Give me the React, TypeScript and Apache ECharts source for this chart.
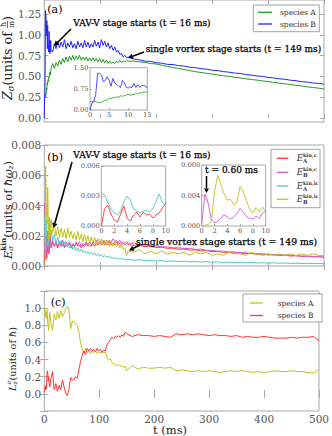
import React, { useEffect, useRef } from "react";
import * as echarts from "echarts";

// ---------------- data ----------------
// shared time grid (ms) for t >= 12
const tMain = [12,15,18,21,24,27,30,33,36,39,42,45,48,51,54,57,60,63,66,69,72,75,78,81,84,87,90,93,96,99,102,105,108,111,114,117,120,123,126,129,132,135,138,141,144,147,150,
  160,170,180,190,200,210,220,230,240,250,260,270,280,290,300,310,320,330,340,350,360,370,380,390,400,410,420,430,440,450,460,470,480,490,500];
const tEarly = [0,1,2,3,4,5,6,7,8,9,10];

// panel (a)
const aBlue = [0.82,0.80,0.90,0.84,0.93,0.85,0.92,0.86,0.95,0.84,0.91,0.86,0.93,0.85,0.90,0.84,0.93,0.86,0.91,0.85,0.94,0.86,0.92,0.85,0.90,0.86,0.94,0.87,0.92,0.85,0.95,0.88,0.93,0.86,0.91,0.84,0.88,0.82,0.86,0.80,0.82,0.77,0.78,0.74,0.76,0.73,0.74,
  0.715,0.705,0.69,0.685,0.67,0.665,0.65,0.648,0.635,0.63,0.615,0.61,0.598,0.592,0.58,0.575,0.562,0.556,0.545,0.54,0.527,0.52,0.51,0.505,0.492,0.486,0.475,0.47,0.458,0.452,0.44,0.436,0.425,0.42,0.41];
const aGreen = [0.60,0.66,0.60,0.67,0.63,0.70,0.65,0.72,0.67,0.74,0.68,0.75,0.70,0.76,0.70,0.75,0.71,0.76,0.70,0.74,0.70,0.74,0.69,0.73,0.69,0.73,0.69,0.72,0.68,0.72,0.67,0.71,0.67,0.70,0.66,0.69,0.66,0.68,0.66,0.69,0.67,0.70,0.67,0.69,0.68,0.70,0.69,
  0.69,0.68,0.675,0.66,0.655,0.64,0.625,0.612,0.60,0.588,0.575,0.562,0.552,0.542,0.532,0.522,0.512,0.505,0.494,0.486,0.476,0.466,0.46,0.45,0.442,0.432,0.423,0.414,0.406,0.397,0.388,0.378,0.371,0.362,0.352];
const insATime = [0,0.5,1,1.5,2,2.5,3,3.5,4,4.5,5,5.5,6,6.5,7,7.5,8,8.5,9,9.5,10,10.5,11,11.5,12,12.5,13,13.5,14,14.5,15];
const insABlue = [0.0,0.25,0.3,0.55,1.3,1.3,1.24,1.0,1.05,1.18,1.05,0.84,1.12,0.95,0.9,0.85,0.8,1.05,0.96,0.8,0.78,0.82,0.8,0.94,0.8,0.9,0.8,0.86,0.87,0.86,0.77];
const insAGreen = [0.3,0.3,0.3,0.3,0.27,0.25,0.28,0.3,0.36,0.34,0.42,0.4,0.44,0.43,0.47,0.45,0.5,0.49,0.51,0.53,0.56,0.52,0.55,0.54,0.6,0.57,0.62,0.6,0.64,0.62,0.66];

// panel (b)
const bYellow = [0.0031,0.0022,0.0027,0.0020,0.0026,0.0019,0.0025,0.0019,0.0024,0.0018,0.0025,0.0019,0.0023,0.0018,0.0022,0.0017,0.0023,0.0017,0.0021,0.0016,0.0021,0.0016,0.0020,0.0015,0.0019,0.0015,0.0019,0.0014,0.0018,0.0015,0.0018,0.0014,0.0017,0.0014,0.0017,0.0013,0.0016,0.0013,0.0016,0.0013,0.0015,0.0012,0.0014,0.0011,0.0012,0.0007,0.0010,
  0.0009,0.0011,0.0008,0.0010,0.0008,0.0010,0.0008,0.0009,0.0008,0.0009,0.0007,0.0009,0.0008,0.0009,0.0007,0.0008,0.0007,0.0009,0.0008,0.0008,0.0007,0.0009,0.0008,0.0007,0.0008,0.0007,0.0008,0.0007,0.0008,0.0007,0.0008,0.0007,0.0008,0.0007,0.0007];
const bMagenta = [0.0014,0.0017,0.0013,0.0016,0.0013,0.0016,0.0014,0.0017,0.0013,0.0016,0.0014,0.0016,0.0013,0.0015,0.0013,0.0016,0.0014,0.0016,0.0013,0.0015,0.0014,0.0016,0.0014,0.0016,0.0014,0.0016,0.0015,0.0017,0.0015,0.0016,0.0015,0.0017,0.0015,0.0017,0.0015,0.0017,0.0016,0.0018,0.0016,0.0017,0.0015,0.0017,0.0015,0.0016,0.0015,0.0016,0.0015,
  0.00152,0.00141,0.00143,0.00133,0.00131,0.00127,0.00126,0.0012,0.00121,0.00116,0.00116,0.0011,0.00111,0.00104,0.00103,0.00098,0.00098,0.00093,0.00093,0.00088,0.00088,0.00083,0.00083,0.00079,0.00079,0.00075,0.00075,0.00071,0.00071,0.00067,0.00067,0.00064,0.00064,0.00061,0.0006];
const bRed = [0.0012,0.0016,0.0013,0.0015,0.0012,0.0015,0.0013,0.0015,0.0012,0.0014,0.0013,0.0015,0.0012,0.0014,0.0013,0.0015,0.0013,0.0014,0.0012,0.0014,0.0013,0.0015,0.0013,0.0014,0.0013,0.0015,0.0013,0.0015,0.0014,0.0015,0.0014,0.0016,0.0014,0.0015,0.0014,0.0016,0.0014,0.0015,0.0014,0.0016,0.0014,0.0015,0.0014,0.0015,0.0014,0.0015,0.0014,
  0.00138,0.00136,0.00128,0.00131,0.00123,0.00124,0.00117,0.00118,0.00111,0.00112,0.00105,0.00107,0.001,0.00102,0.00095,0.00097,0.0009,0.00092,0.00086,0.00087,0.00081,0.00083,0.00077,0.00079,0.00073,0.00075,0.0007,0.00072,0.00066,0.00069,0.00063,0.00065,0.0006,0.00062,0.00058];
const bCyan = [0.0024,0.0017,0.0021,0.0015,0.0019,0.0014,0.0017,0.0013,0.0016,0.0013,0.0015,0.0012,0.0014,0.0011,0.0013,0.0010,0.0012,0.00095,0.0011,0.0009,0.0010,0.00085,0.00095,0.0008,0.0009,0.00075,0.00085,0.0007,0.0008,0.00065,0.00075,0.0006,0.0007,0.00058,0.00065,0.00055,0.0006,0.0005,0.00056,0.00048,0.00052,0.00045,0.0005,0.00042,0.00047,0.0004,0.00044,
  0.00038,0.00042,0.00035,0.00038,0.00032,0.00036,0.0003,0.00034,0.00029,0.00032,0.00027,0.0003,0.00026,0.00029,0.00025,0.00027,0.00023,0.00026,0.00022,0.00025,0.00021,0.00024,0.0002,0.00022,0.00019,0.00021,0.00018,0.0002,0.00017,0.00019,0.00016,0.00018,0.00016,0.00017,0.00015];
const insBTime = [0,0.5,1,1.5,2,2.5,3,3.5,4,4.5,5,5.5,6,6.5,7,7.5,8,8.5,9,9.5,10];
const insB1Cyan = [0.0033,0.0031,0.0024,0.0017,0.0013,0.0011,0.0015,0.0024,0.0030,0.0026,0.0017,0.0015,0.0013,0.0015,0.0016,0.0014,0.0017,0.0025,0.0032,0.0023,0.0021];
const insB1Red = [0.0,0.0017,0.0021,0.0012,0.0006,0.0004,0.0012,0.0020,0.0008,0.0005,0.0011,0.0014,0.0009,0.0014,0.0011,0.0012,0.0008,0.0011,0.0013,0.0018,0.0023];
const insB2Magenta = [0.0002,0.0042,0.0030,0.0009,0.0004,0.0006,0.0010,0.0015,0.0012,0.0009,0.0012,0.0016,0.0023,0.0018,0.0012,0.0010,0.0009,0.0013,0.0010,0.0017,0.0019];
const insB2Yellow = [0.0,0.0001,0.0002,0.0006,0.0045,0.0066,0.0055,0.0042,0.0034,0.0035,0.0028,0.0031,0.0052,0.0045,0.0033,0.0022,0.0017,0.0024,0.0019,0.0025,0.0019];

// panel (c)
const cYellowEarly = [0.97,1.0,0.9,0.95,0.88,0.98,0.85,0.78,0.74,0.9,0.95];
const cYellow = [0.82,0.74,0.93,0.86,0.96,0.88,0.97,0.90,0.94,0.99,1.02,0.97,0.76,0.85,0.84,0.82,0.80,0.72,0.60,0.52,0.47,0.53,0.48,0.50,0.47,0.50,0.48,0.50,0.47,0.49,0.47,0.50,0.48,0.49,0.43,0.39,0.41,0.37,0.35,0.34,0.33,0.34,0.32,0.33,0.31,0.32,0.27,
  0.33,0.29,0.31,0.30,0.30,0.31,0.30,0.31,0.27,0.28,0.27,0.26,0.27,0.26,0.27,0.26,0.25,0.26,0.27,0.26,0.27,0.26,0.25,0.26,0.25,0.26,0.27,0.26,0.26,0.27,0.26,0.26,0.25,0.24,0.29];
const cRedEarly = [0.02,0.08,0.05,0.10,0.06,0.25,0.27,0.15,0.20,0.12,0.08];
const cRed = [0.18,0.26,0.05,0.12,0.03,0.10,0.05,0.16,0.08,0.01,-0.02,0.06,0.19,0.16,0.17,0.20,0.18,0.28,0.38,0.45,0.50,0.46,0.53,0.50,0.53,0.50,0.52,0.49,0.53,0.50,0.52,0.48,0.51,0.50,0.57,0.60,0.63,0.66,0.64,0.67,0.66,0.68,0.66,0.69,0.67,0.72,0.70,
  0.67,0.69,0.68,0.68,0.67,0.68,0.67,0.66,0.70,0.69,0.70,0.69,0.70,0.69,0.68,0.69,0.68,0.68,0.67,0.68,0.66,0.67,0.66,0.66,0.67,0.66,0.65,0.65,0.65,0.66,0.65,0.66,0.66,0.67,0.62];

const legendA = ["species A", "species B"];
const legendC = ["species A", "species B"];

// ---------------- styling ----------------
const FF = '"DejaVu Serif", serif';
const AX = "#a8a8a8";
const LBL = "#555";
const C_GREEN = "#1f9e1f";
const C_BLUE = "#2323ff";
const C_RED = "#ff3535";
const C_MAG = "#d459d4";
const C_CYAN = "#48caca";
const C_YEL = "#c2c21c";

const pairs = (ts: number[], vs: number[]) => ts.map((t, i) => [t, vs[i]]);

let _ctx: CanvasRenderingContext2D | null = null;
function tw(text: string, font: string) {
  if (!_ctx) _ctx = document.createElement("canvas").getContext("2d");
  _ctx!.font = font;
  return _ctx!.measureText(text).width;
}
type Item = { t: string; s: number; it?: boolean; b?: boolean; dy?: number };
type Col = { items: Item[]; bar?: boolean; center?: boolean };
const fnt = (i: Item) => `${i.it ? "italic " : ""}${i.b ? "bold " : ""}${i.s}px ${FF}`;

function run(cols: Col[], x: number, y: number, o: { rot?: number; align?: "left" | "center"; color?: string; span?: number }) {
  const color = o.color || "#222";
  const widths = cols.map((c) => Math.max(...c.items.map((i) => tw(i.t, fnt(i)))));
  const total = widths.reduce((a, b) => a + b, 0);
  let cx = o.align === "left" ? 0 : -total / 2;
  const children: any[] = [];
  cols.forEach((c, k) => {
    const w = widths[k];
    c.items.forEach((i) =>
      children.push({
        type: "text", z: 100, silent: true,
        x: c.center ? cx + w / 2 : cx, y: i.dy || 0,
        style: { text: i.t, font: fnt(i), fill: color, textAlign: c.center ? "center" : "left", align: c.center ? "center" : "left", textVerticalAlign: "middle", verticalAlign: "middle" },
      })
    );
    if (c.bar) children.push({ type: "line", z: 100, silent: true, shape: { x1: cx, y1: 0, x2: cx + w, y2: 0 }, style: { stroke: color, lineWidth: 0.6 } });
    cx += w;
  });
  const sc = o.span ? o.span / total : 1;
  return { type: "group", x, y, rotation: o.rot || 0, scaleX: sc, scaleY: sc, z: 100, silent: true, children };
}

function txt(text: string, x: number, y: number, size: number, extra: any = {}) {
  return {
    type: "text", z: 100, x, y, silent: true,
    style: { text, font: `${size}px ${FF}`, fill: "#000", textAlign: "left", align: "left", textVerticalAlign: "middle", verticalAlign: "middle", ...extra },
  };
}

function arrow(x1: number, y1: number, x2: number, y2: number, w = 1.6, head = 5) {
  const dx = x2 - x1, dy = y2 - y1, L = Math.hypot(dx, dy), ux = dx / L, uy = dy / L;
  const bx = x2 - ux * head, by = y2 - uy * head, px = -uy, py = ux, hw = head * 0.55;
  return [
    { type: "line", z: 100, silent: true, shape: { x1, y1, x2: bx, y2: by }, style: { stroke: "#000", lineWidth: w } },
    { type: "polygon", z: 100, silent: true, shape: { points: [[x2, y2], [bx + px * hw, by + py * hw], [bx - px * hw, by - py * hw]] }, style: { fill: "#000" } },
  ];
}

function axis(grid: number, min: number, max: number, o: any = {}) {
  const tick: any = { show: o.noTicks ? false : true, inside: true, length: o.tl ?? 4, lineStyle: { color: AX, width: 1 } };
  const lab: any = { show: !!o.labels, margin: o.margin ?? 3, fontFamily: FF, fontSize: o.fs ?? 10.5, color: LBL, hideOverlap: false, showMinLabel: true, showMaxLabel: true };
  if (o.fmt) lab.formatter = o.fmt;
  return {
    type: "value", gridIndex: grid, min, max, position: o.pos, interval: o.interval, show: o.hidden ? false : true,
    axisLine: { show: false }, splitLine: { show: false }, axisTick: tick, axisLabel: lab,
  };
}

function legendBox(x: number, y: number, w: number, h: number) {
  return { type: "rect", z: 99, silent: true, shape: { x, y, width: w, height: h }, style: { fill: "#fff", stroke: "#8a8a8a", lineWidth: 0.8 } };
}
function legendLine(x1: number, x2: number, y: number, color: string) {
  return { type: "line", z: 100, silent: true, shape: { x1, y1: y, x2, y2: y }, style: { stroke: color, lineWidth: 1.3 } };
}

function buildOption() {
  const L = 44.3, W = 279.7;
  const gridBase = { show: true, borderColor: AX, borderWidth: 1, backgroundColor: "transparent" };
  // panel (a): 0 at y=118, 1.25 at y=14  -> the tick-axis grid spans exactly 0..1.25
  const grid = [
    { ...gridBase, left: L, top: -1, width: W, height: 123 }, // 0 a
    { ...gridBase, left: 90, top: 67.7, width: 57.3, height: 42.3, backgroundColor: "#fff" }, // 1 a inset
    { ...gridBase, left: L, top: 145, width: W, height: 121 }, // 2 b
    { ...gridBase, left: 101.3, top: 166, width: 64.4, height: 60, backgroundColor: "#fff" }, // 3 b1
    { ...gridBase, left: 201.7, top: 165, width: 64, height: 61, backgroundColor: "#fff" }, // 4 b2
    { ...gridBase, left: L, top: 291, width: W, height: 120 }, // 5 c
    { show: false, left: L, top: 14, width: W, height: 104 }, // 6 a tick axis
  ];
  const aMin = -0.048, aMax = 1.43;
  const small = { fs: 6.7, tl: 2, margin: 1.5, labels: true };
  const xAxis = [
    axis(0, 0, 500, { interval: 100, pos: "bottom" }),
    axis(0, 0, 500, { interval: 100, pos: "top" }),
    axis(1, 0, 15, { ...small, interval: 5, pos: "bottom" }),
    axis(2, 0, 500, { interval: 100, pos: "bottom" }),
    axis(2, 0, 500, { interval: 100, pos: "top" }),
    axis(3, 0, 10, { ...small, interval: 2, pos: "bottom" }),
    axis(4, 0, 10, { ...small, interval: 2, pos: "bottom" }),
    axis(5, 0, 500, { interval: 100, pos: "bottom", labels: true, margin: 2 }),
    axis(5, 0, 500, { interval: 100, pos: "top" }),
    axis(6, 0, 500, { hidden: true }),
  ];
  const yAxis = [
    axis(0, aMin, aMax, { pos: "left", noTicks: true }),
    axis(1, 0, 1.5, { ...small, interval: 0.75, pos: "left", fmt: (v: number) => v.toFixed(2) }),
    axis(2, 0, 0.008, { interval: 0.002, pos: "left", labels: true, fmt: (v: number) => v.toFixed(3) }),
    axis(2, 0, 0.008, { interval: 0.002, pos: "right" }),
    axis(3, 0, 0.006, { ...small, interval: 0.003, pos: "left", fmt: (v: number) => v.toFixed(3) }),
    axis(4, 0, 0.008, { ...small, interval: 0.004, pos: "left", fmt: (v: number) => v.toFixed(3) }),
    axis(5, -0.2, 1.2, { interval: 0.2, pos: "left", labels: true, fmt: (v: number) => (v < -0.01 || v > 1.01 ? "" : v.toFixed(1)) }),
    axis(5, -0.2, 1.2, { interval: 0.2, pos: "right" }),
    axis(6, 0, 1.25, { interval: 0.25, pos: "left", labels: true, fmt: (v: number) => v.toFixed(2) }),
    axis(6, 0, 1.25, { interval: 0.25, pos: "right" }),
  ];
  const ln = (xi: number, yi: number, data: any[], color: string, w = 1, z = 2) => ({
    type: "line", xAxisIndex: xi, yAxisIndex: yi, data, showSymbol: false, symbol: "none",
    lineStyle: { color, width: w }, itemStyle: { color }, z, silent: true, clip: true,
  });
  const early = (ts: number[], vs: number[]) => pairs(ts, vs).filter((p) => p[0] < 12);
  const series = [
    ln(0, 0, [...early(insATime, insAGreen), ...pairs(tMain, aGreen)], C_GREEN),
    ln(0, 0, [...early(insATime, insABlue), ...pairs(tMain, aBlue)], C_BLUE),
    ln(2, 1, pairs(insATime, insAGreen), C_GREEN, 0.8, 5),
    ln(2, 1, pairs(insATime, insABlue), C_BLUE, 0.8, 5),
    ln(3, 2, [...early(insBTime, insB1Red), ...pairs(tMain, bRed)], C_RED),
    ln(3, 2, [...early(insBTime, insB2Magenta), ...pairs(tMain, bMagenta)], C_MAG),
    ln(3, 2, [...early(insBTime, insB1Cyan), ...pairs(tMain, bCyan)], C_CYAN),
    ln(3, 2, [...early(insBTime, insB2Yellow), ...pairs(tMain, bYellow)], C_YEL),
    ln(5, 4, pairs(insBTime, insB1Red), C_RED, 0.9, 5),
    ln(5, 4, pairs(insBTime, insB1Cyan), C_CYAN, 0.9, 5),
    ln(6, 5, pairs(insBTime, insB2Magenta), C_MAG, 0.9, 5),
    ln(6, 5, pairs(insBTime, insB2Yellow), C_YEL, 0.9, 5),
    ln(7, 6, [...pairs(tEarly, cYellowEarly), ...pairs(tMain, cYellow)], C_YEL),
    ln(7, 6, [...pairs(tEarly, cRedEarly), ...pairs(tMain, cRed)], C_RED),
  ];

  const annot = { stroke: "#000", lineWidth: 0.25 };
  const T = 12;
  const elements: any[] = [
    // panel labels
    txt("(a)", 47.3, 9.5, 11),
    txt("(b)", 47.3, 157.3, 11),
    txt("(c)", 50.7, 302.7, 11),
    // annotations
    txt("VAV-V stage starts (t = 16 ms)", 73.3, 23.3, 9, annot),
    txt("single vortex stage starts (t = 149 ms)", 145.7, 49.3, 9, annot),
    ...arrow(71, 29, 54, 46),
    ...arrow(144, 52, 128, 58),
    txt("VAV-V stage starts (t = 16 ms)", 73.3, 155, 9, annot),
    txt("single vortex stage starts (t = 149 ms)", 136, 241, 9.3, annot),
    ...arrow(72, 162, 53.5, 228),
    ...arrow(140, 245, 129, 250.5),
    txt("t = 0.60 ms", 205, 170, 9, annot),
    ...arrow(206.5, 176, 206.5, 193, 1.5, 4.5),
    // legend a
    legendBox(253.3, 5, 66, 26.7),
    legendLine(258, 272, 12.3, C_GREEN),
    txt(legendA[0], 280, 12.3, 7.5, { fill: "#333" }),
    legendLine(258, 272, 24, C_BLUE),
    txt(legendA[1], 280, 24, 7.5, { fill: "#333" }),
    // legend c
    legendBox(243, 294, 79, 28),
    legendLine(250, 263, 303, C_YEL),
    txt(legendC[0], 277.7, 303, 7.5, { fill: "#333" }),
    legendLine(250, 263, 315.5, C_RED),
    txt(legendC[1], 277.7, 315.5, 7.5, { fill: "#333" }),
    // legend b
    legendBox(271, 149.3, 49, 58.4),
  ];
  const bLeg: [string, string, string, number][] = [
    ["kin,c", "A", C_RED, 158.3],
    ["kin,c", "B", C_MAG, 172.3],
    ["kin,ic", "A", C_CYAN, 186],
    ["kin,ic", "B", C_YEL, 199.3],
  ];
  bLeg.forEach(([sup, sub, col, y]) => {
    elements.push(legendLine(276.7, 288.3, y, col));
    elements.push(run([
      { items: [{ t: "E", s: 8.5, it: true }] },
      { items: [{ t: sup, s: 5, b: true, dy: -3.5 }, { t: sub, s: 5.5, b: true, dy: 3 }] },
    ], 296.7, y, { align: "left", color: "#333" }));
  });
  // axis titles
  elements.push(run([
    { items: [{ t: "Z", s: T, it: true }] },
    { items: [{ t: "σ", s: 8, it: true, dy: 3 }] },
    { items: [{ t: "(units of ", s: T }] },
    { items: [{ t: "ħ", s: 7, dy: -4 }, { t: "m", s: 7, dy: 4 }], bar: true, center: true },
    { items: [{ t: ")", s: T }] },
  ], 7.5, 58, { rot: Math.PI / 2, span: 84 }));
  elements.push(run([
    { items: [{ t: "E", s: T, it: true }] },
    { items: [{ t: "kin", s: 7.5, b: true, dy: -4.5 }, { t: "σ", s: 7.5, it: true, dy: 3.5 }] },
    { items: [{ t: "(units of ", s: T }] },
    { items: [{ t: "ħω", s: T, it: true }] },
    { items: [{ t: "z", s: 7.5, it: true, dy: 3 }] },
    { items: [{ t: ")", s: T }] },
  ], 7.5, 210, { rot: Math.PI / 2, span: 98 }));
  elements.push(run([
    { items: [{ t: "L", s: T, it: true }] },
    { items: [{ t: "σ", s: 7.5, it: true, dy: -4.5 }, { t: "z", s: 7.5, it: true, dy: 3.5 }] },
    { items: [{ t: "(units of ", s: T }] },
    { items: [{ t: "ħ", s: T, it: true }] },
    { items: [{ t: ")", s: T }] },
  ], 12, 359, { rot: Math.PI / 2, span: 64 }));
  elements.push({
    type: "text", z: 100, x: 170, y: 429.5, silent: true,
    style: { text: "t (ms)", font: `11.5px ${FF}`, fill: "#222", textAlign: "center", align: "center", textVerticalAlign: "middle", verticalAlign: "middle" },
  });

  return {
    animation: false,
    backgroundColor: "#fff",
    grid, xAxis, yAxis, series,
    graphic: { elements },
  };
}

export default function App() {
  const ref = useRef<HTMLDivElement>(null);
  useEffect(() => {
    if (!ref.current) return;
    const chart = echarts.init(ref.current, null, { renderer: "svg" });
    chart.setOption(buildOption() as any);
    return () => chart.dispose();
  }, []);
  return (
    <div
      ref={ref}
      style={{ position: "absolute", left: 0, top: 0, width: 332, height: 436, background: "#fff" }}
    />
  );
}
